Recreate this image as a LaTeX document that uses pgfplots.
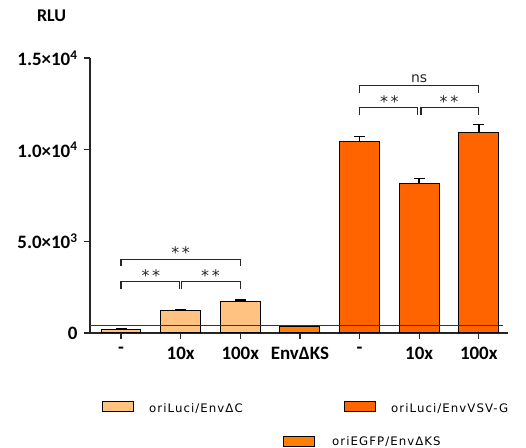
\documentclass[border=0pt]{standalone}
\usepackage{pgfplots}
\pgfplotsset{compat=1.18}
\usepackage{fontspec}
\setmainfont{Carlito}
\newfontfamily\legfont[LetterSpace=9]{DejaVu Sans}
\newfontfamily\sigfont{DejaVu Sans}
\definecolor{lightor}{RGB}{255,194,128}
\definecolor{midor}{RGB}{255,128,0}
\definecolor{darkor}{RGB}{255,100,0}
\begin{document}
\begin{tikzpicture}[x=1bp,y=1bp]
\useasboundingbox (-90,-115) rectangle (436,333);
\begin{axis}[
  at={(0,0)}, anchor=south west, scale only axis, width=418bp, height=275bp,
  xmin=-0.52, xmax=6.49, ymin=0, ymax=15000,
  axis x line*=bottom, axis y line*=left,
  axis line style={-, line width=1.2bp, black!85},
  xtick={0,...,6},
  xticklabels={-,10x,100x,EnvΔKS,-,10x,100x},
  ytick={0,5000,10000,15000},
  yticklabels={0,{5.0×10\textsuperscript{3}},{1.0×10\textsuperscript{4}},{1.5×10\textsuperscript{4}}},
  tick align=outside, major tick length=6bp,
  tick style={line width=1.2bp, black!85},
  ticklabel style={font=\fontsize{19}{21}\selectfont\bfseries},
  xticklabel style={yshift=-5bp},
  yticklabel style={xshift=-3bp},
  scaled y ticks=false,
  ybar, bar width=0.67, bar shift=0pt,
  clip=false,
  error bars/error bar style={line width=1.5bp, black},
  error bars/error mark options={rotate=90, line width=1.5bp, black, mark size=5.5bp},
]
\addplot[ybar, fill=lightor, draw=black, line width=1bp,
  error bars/.cd, y dir=plus, y explicit]
  coordinates {(0,200) +- (0,40) (1,1220) +- (0,60) (2,1730) +- (0,70)};
\addplot[ybar, fill=midor, draw=black, line width=1bp,
  error bars/.cd, y dir=plus, y explicit]
  coordinates {(3,380) +- (0,30)};
\addplot[ybar, fill=darkor, draw=black, line width=1bp,
  error bars/.cd, y dir=plus, y explicit]
  coordinates {(4,10420) +- (0,310) (5,8145) +- (0,290) (6,10930) +- (0,450)};
\addplot[sharp plot, no markers, line width=1.2bp, black!80]
  coordinates {(-0.52,400) (6.41,400)};
% significance brackets
\draw[line width=1.3bp, black!85] (axis cs:0,2415) -- (axis cs:0,2815) -- (axis cs:0.98,2815) -- (axis cs:0.98,2415);
\draw[line width=1.3bp, black!85] (axis cs:1.02,2415) -- (axis cs:1.02,2815) -- (axis cs:2,2815) -- (axis cs:2,2415);
\draw[line width=1.3bp, black!85] (axis cs:0,3635) -- (axis cs:0,4000) -- (axis cs:2,4000) -- (axis cs:2,3635);
\draw[line width=1.3bp, black!85] (axis cs:4,11870) -- (axis cs:4,12310) -- (axis cs:4.97,12310) -- (axis cs:4.97,11870);
\draw[line width=1.3bp, black!85] (axis cs:5.03,11870) -- (axis cs:5.03,12310) -- (axis cs:6,12310) -- (axis cs:6,11870);
\draw[line width=1.3bp, black!85] (axis cs:4,13090) -- (axis cs:4,13510) -- (axis cs:6,13510) -- (axis cs:6,13090);
\begin{scope}[every node/.style={anchor=base, inner sep=0pt, font=\sigfont\fontsize{16}{16}\selectfont, text=black!85}]
\node at (axis cs:0.5,2815) {*\,*};
\node at (axis cs:1.5,2815) {*\,*};
\node at (axis cs:1,4050) {*\,*};
\node at (axis cs:4.5,12310) {*\,*};
\node at (axis cs:5.5,12310) {*\,*};
\node[font=\sigfont\fontsize{14}{14}\selectfont] at (axis cs:5,13680) {ns};
\end{scope}
\end{axis}
\node[font=\fontsize{18}{20}\selectfont\bfseries] at (-38.5,317) {RLU};
% legend
\node[draw=black, fill=lightor, line width=1bp, minimum width=31bp, minimum height=10bp, inner sep=0pt] at (28,-74) {};
\node[anchor=base west, inner sep=0pt, font=\legfont\fontsize{11.8}{12}\selectfont] at (59,-79.3) {oriLuci/EnvΔC};
\node[draw=black, fill=darkor, line width=1bp, minimum width=31bp, minimum height=10bp, inner sep=0pt] at (269.5,-74) {};
\node[anchor=base west, inner sep=0pt, font=\legfont\fontsize{11.8}{12}\selectfont] at (301,-79.3) {oriLuci/EnvVSV-G};
\node[draw=black, fill=midor, line width=1bp, minimum width=31bp, minimum height=10bp, inner sep=0pt] at (209,-109) {};
\node[anchor=base west, inner sep=0pt, font=\legfont\fontsize{11.8}{12}\selectfont] at (242,-113) {oriEGFP/EnvΔKS};
\end{tikzpicture}
\end{document}
